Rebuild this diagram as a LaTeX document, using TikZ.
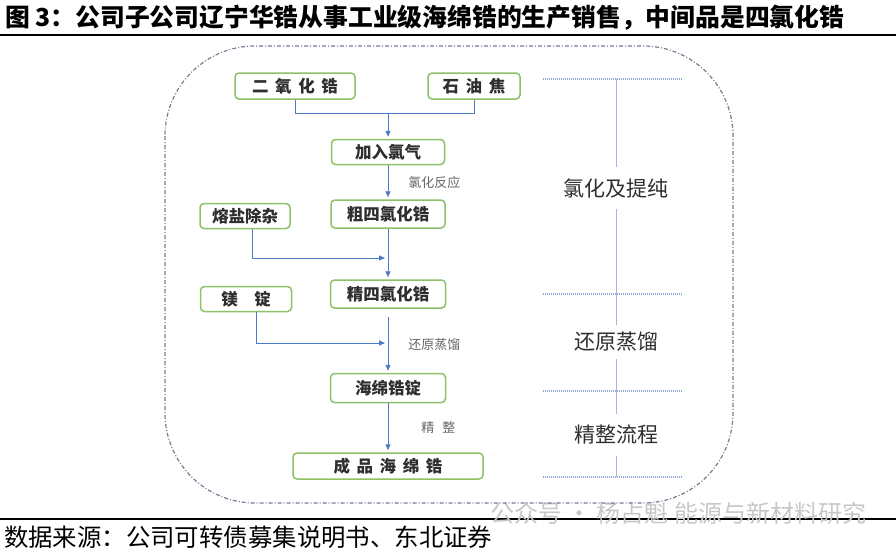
\documentclass[tikz,border=0pt]{standalone}
\usepackage{fontspec}
\setmainfont{Noto Sans CJK SC}
\usepackage{tikz}
\usetikzlibrary{arrows.meta,positioning,calc}
\definecolor{ink}{HTML}{2E2E2E}
\definecolor{boxgreen}{HTML}{8CC168}
\definecolor{flowblue}{HTML}{4A7BC8}
\definecolor{framegray}{HTML}{737D93}
\definecolor{dotblue}{HTML}{8EA5D6}
\definecolor{labelgray}{HTML}{666666}
\newcommand{\gapx}[1][0.4em]{\hspace{#1}}

\begin{document}
\begin{tikzpicture}[x=1pt,y=-1pt,
  stagebox/.style={draw=boxgreen,line width=1.5pt,rounded corners=4pt,fill=white,
    inner sep=2pt,minimum height=26pt,font=\fontsize{16.5}{18}\selectfont\bfseries,text=ink},
  flow/.style={-{Triangle[length=6pt,width=5pt]},draw=flowblue,line width=0.9pt,shorten >=2pt},
  link/.style={draw=flowblue,line width=0.9pt},
  note/.style={font=\fontsize{13}{15}\selectfont,text=labelgray,inner sep=2pt},
  phase/.style={font=\fontsize{21}{24}\selectfont,text=ink,inner xsep=4pt,inner ysep=11pt},
  divider/.style={draw=dotblue,line width=1.6pt,dash pattern=on 1pt off 1pt},
  spine/.style={draw=dotblue!80,line width=0.8pt},
  frame/.style={draw=framegray,line width=1.2pt,rounded corners=90pt,
    dash pattern=on 4pt off 2pt on 1pt off 2pt}
]
  \useasboundingbox (0,0) rectangle (896,549);

  % heading and source line
  \node[anchor=west,inner sep=0pt,font=\fontsize{24.8}{26}\selectfont\bfseries] (title) at (5,18)
    {图 3：公司子公司辽宁华锆从事工业级海绵锆的生产销售，中间品是四氯化锆};
  \draw[line width=2pt] (0,35) -- (896,35);
  \draw[line width=1.3pt] (0,519) -- (896,519);
  \node[anchor=west,inner sep=0pt,font=\fontsize{24}{26}\selectfont,text=black!22] (watermark) at (490,513)
    {公众号 · 杨占魁 能源与新材料研究};
  \node[anchor=west,inner sep=0pt,font=\fontsize{24.4}{26}\selectfont] (source) at (4,537)
    {数据来源：公司可转债募集说明书、东北证券};

  \draw[frame] (165,46) rectangle (733,503);

  % process boxes
  \node[stagebox,minimum width=120pt] (zro2) at (295,86) {二\gapx 氧\gapx 化\gapx 锆};
  \node[stagebox,minimum width=92pt] (coke) at (474,86) {石\gapx 油\gapx 焦};
  \node[stagebox,minimum width=113pt,minimum height=25pt] (chlorine) at (388,152) {加入氯气};
  \node[stagebox,minimum width=114pt,minimum height=28pt] (crude) at (388,214) {粗四氯化锆};
  \node[stagebox,minimum width=90pt,minimum height=25pt] (salt) at (245,216) {熔盐除杂};
  \node[stagebox,minimum width=115pt,minimum height=28pt] (pure) at (388,294) {精四氯化锆};
  \node[stagebox,minimum width=91pt,minimum height=25pt] (magnesium) at (246,299) {镁\gapx[1em]锭};
  \node[stagebox,minimum width=115pt,minimum height=29pt] (ingot) at (388,388) {海绵锆锭};
  \node[stagebox,minimum width=190pt] (product) at (388,466) {成\gapx 品\gapx 海\gapx 绵\gapx 锆};

  \coordinate (feedjoin) at (388,113);
  \coordinate (saltin) at (388,258);
  \coordinate (mgin) at (388,343);

  \draw[link] (zro2.south) |- (feedjoin);
  \draw[link] (coke.south) |- (feedjoin);
  \draw[flow] (feedjoin) -- (chlorine.north);
  \draw[flow] (chlorine.south) -- node[note,midway,anchor=west,xshift=18pt]{氯化反应} (crude.north);
  \draw[flow] (crude.south) -- (pure.north);
  \draw[flow,shorten >=3pt] ([xshift=7pt]salt.south) |- (saltin);
  \draw[flow] ([yshift=-8pt]pure.south) -- node[note,midway,anchor=west,xshift=18pt]{还原蒸馏} (ingot.north);
  \draw[flow,shorten >=3pt] ([xshift=10pt]magnesium.south) |- (mgin);
  \draw[flow] (ingot.south) -- node[note,midway,anchor=west,xshift=31pt]{精\gapx[0.6em]整} (product.north);

  % stage column
  \foreach \y in {79,294,391,477}
    \draw[divider] (543,\y) -- (683,\y);
  \coordinate (spinetop) at (616,79);
  \coordinate (spinebot) at (616,477);
  \node[phase] (chlorstage) at (616,188) {氯化及提纯};
  \node[phase,inner ysep=7pt] (reducestage) at (616,342) {还原蒸馏};
  \node[phase] (finishstage) at (616,435) {精整流程};
  \draw[spine] (spinetop) -- (chlorstage);
  \draw[spine] (chlorstage) -- (reducestage);
  \draw[spine] (reducestage) -- (finishstage);
  \draw[spine] (finishstage) -- (spinebot);
\end{tikzpicture}
\end{document}
